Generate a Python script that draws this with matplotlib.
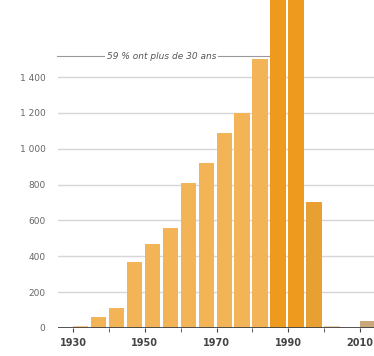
import matplotlib
matplotlib.use('Agg')
import matplotlib.pyplot as plt

# Data: start year of each 5-year bin and count
years = [1930, 1935, 1940, 1945, 1950, 1955, 1960, 1965, 1970, 1975,
         1980, 1985, 1990, 1995, 2000, 2005, 2010]
counts = [10, 60, 110, 370, 470, 560, 810, 920, 1090, 1200,
          1500, 2100, 2100, 700, 8, 0, 40]
colors = ['#F6C98A', '#F3B458', '#F3B458', '#F3B458', '#F3B458', '#F3B458',
          '#F3B458', '#F3B458', '#F3B458', '#F3B458', '#F3B458',
          '#EE9A1E', '#EE9A1E', '#E8A033', '#E9D2B0', '#E9D2B0', '#C9A77A']

yticks = [0, 200, 400, 600, 800, 1000, 1200, 1400]
ytick_labels = ['0', '200', '400', '600', '800', '1 000', '1 200', '1 400']
xticks_major = [1930, 1950, 1970, 1990, 2010]
xticks_minor = [1940, 1960, 1980, 2000]
note = '59 % ont plus de 30 ans'
note_level = 1515

fig = plt.figure(figsize=(3.74, 3.56), dpi=100)
ax = fig.add_axes([0.155, 0.079, 0.845, 0.921])

ax.bar(years, counts, width=4.3, align='edge', color=colors, zorder=3)

ax.set_xlim(1925.8, 2013.9)
ax.set_ylim(0, 1830)

ax.set_yticks(yticks)
ax.set_yticklabels(ytick_labels, fontsize=6.5, color='#666666')
ax.set_xticks(xticks_major)
ax.set_xticklabels([str(x) for x in xticks_major], fontsize=7,
                   fontweight='bold', color='#444444')
ax.set_xticks(xticks_minor, minor=True)
ax.tick_params(axis='y', length=0, pad=9)
ax.tick_params(axis='x', which='both', direction='out', length=3,
               color='#444444', pad=4)

for y in yticks[1:]:
    ax.axhline(y, color='#D6D6D6', lw=1.0, zorder=1)
ax.axhline(0, color='#444444', lw=1.3, zorder=4)

for s in ax.spines.values():
    s.set_visible(False)

# annotation line + label
ax.plot([1925.6, 1984.7], [note_level, note_level], color='#999999',
        lw=0.8, zorder=2, clip_on=False)
ax.text(1954.7, note_level, note, fontsize=6.5, style='italic',
        color='#555555', ha='center', va='center', zorder=2,
        bbox=dict(facecolor='white', edgecolor='none', pad=1.5))

fig.savefig('out.png', dpi=100)
